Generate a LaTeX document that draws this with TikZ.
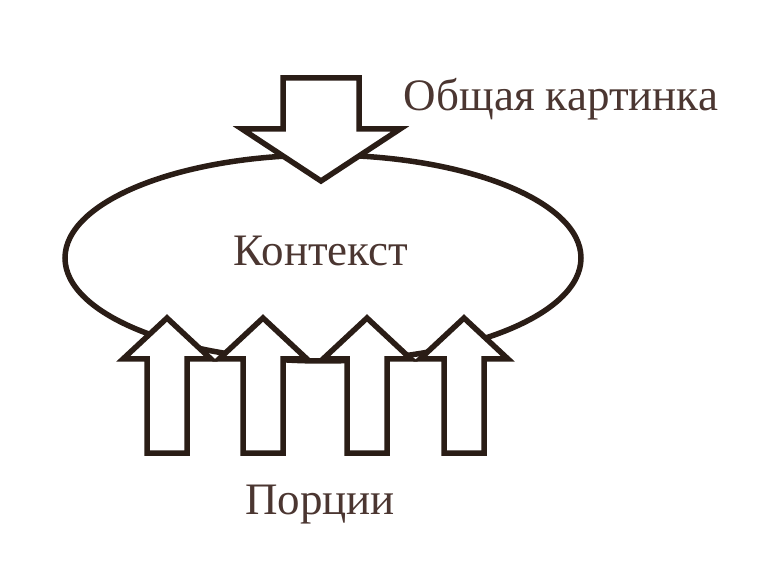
\documentclass[tikz,border=0pt]{standalone}
\usepackage{fontspec}
\setmainfont{Liberation Serif}
\usepackage{tikz}
\definecolor{inkline}{HTML}{2A1D16}
\definecolor{inktext}{HTML}{4B3631}

\begin{document}
\begin{tikzpicture}[x=1pt,y=-1pt,
  blockarrow/.style={draw=inkline,line width=5.5pt,fill=white,line join=miter},
  label/.style={text=inktext,anchor=base,inner sep=0pt,
    font=\fontsize{45}{50}\selectfont}]
\useasboundingbox (0,0) rectangle (764,564);
% context
\draw[inkline,line width=5.5pt] (323,258) ellipse [x radius=258, y radius=103];
\node[label] (ctx) at (321,266) {Контекст};
% big picture arrow
\draw[blockarrow] (283,78) -- (359,78) -- (359,129) -- (400,129) -- (321,181)
  -- (242,129) -- (283,129) -- cycle;
\node[label] (big) at (561,111) {Общая картинка};
% portions
\foreach \cx in {167,263,367,464}
  \draw[blockarrow] (\cx-20,453) -- (\cx-20,359) -- (\cx-44,359) -- (\cx,318)
    -- (\cx+44,359) -- (\cx+20,359) -- (\cx+20,453) -- cycle;
\node[label] (parts) at (320,514) {Порции};
\end{tikzpicture}
\end{document}
